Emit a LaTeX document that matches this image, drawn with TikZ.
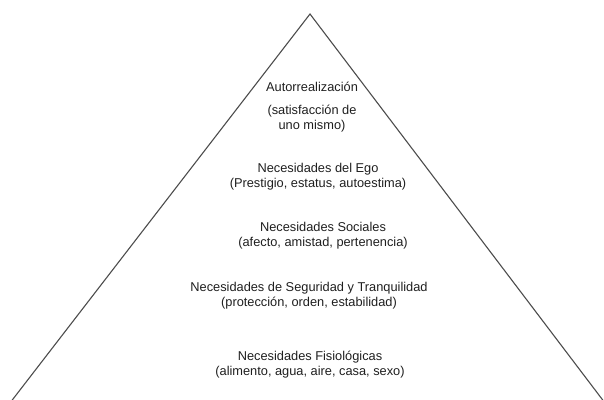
\documentclass[tikz,border=0pt]{standalone}
\usepackage{fontspec}
\setmainfont{Liberation Sans}
\usepackage{tikz}
\usetikzlibrary{positioning}

\begin{document}
\begin{tikzpicture}[x=1pt, y=-1pt,
    lvl/.style={font=\fontsize{12.8}{15}\selectfont, align=center, text=black!88, inner sep=0pt},
    side/.style={draw=black!70, line width=1.1pt},
]
\useasboundingbox (0,0) rectangle (604,399);
\clip (0,0) rectangle (604,399);

% pyramid sides
\coordinate (apex) at (310,14);
\coordinate (bl) at (8.4,405);
\coordinate (br) at (606.5,405);
\draw[side] (bl) -- (apex) -- (br);

% levels, top to bottom
\node[lvl] (aut) at (312,87) {Autorrealización};
\node[lvl] (sat) at (312,118.5) {(satisfacción de\\uno mismo)};
\node[lvl] (ego) at (318,177) {Necesidades del Ego\\(Prestigio, estatus, autoestima)};
\node[lvl] (soc) at (323,235.5) {Necesidades Sociales\\(afecto, amistad, pertenencia)};
\node[lvl] (seg) at (309,295.5) {Necesidades de Seguridad y Tranquilidad\\(protección, orden, estabilidad)};
\node[lvl] (fis) at (310,365) {Necesidades Fisiológicas\\(alimento, agua, aire, casa, sexo)};
\end{tikzpicture}
\end{document}
